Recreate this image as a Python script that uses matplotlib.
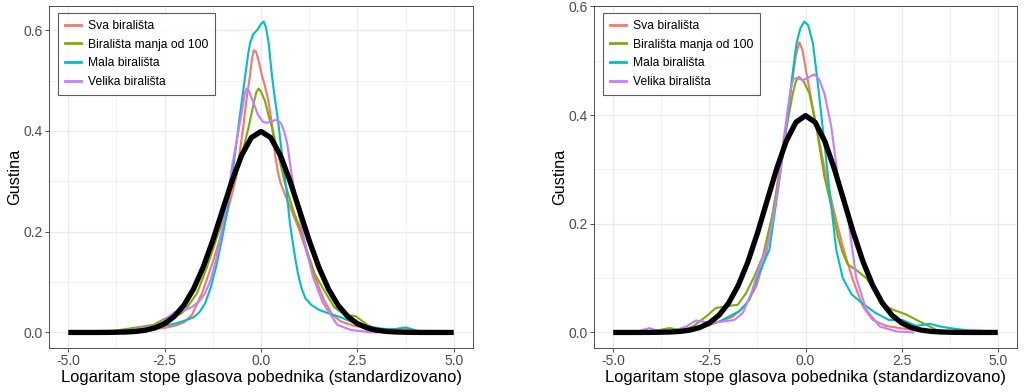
import matplotlib
matplotlib.use('Agg')
import matplotlib.pyplot as plt
from matplotlib.ticker import MultipleLocator

plt.rcParams['font.family'] = ['Liberation Sans', 'DejaVu Sans']

SERIES = ["Sva birališta", "Birališta manja od 100", "Mala birališta", "Velika birališta"]
COLORS = ["#F8766D", "#7CAE00", "#00BFC4", "#C77CFF"]
X_TICKS = [-5.0, -2.5, 0.0, 2.5, 5.0]
Y_TICKS = [0.0, 0.2, 0.4, 0.6]
X_LABEL = "Logaritam stope glasova pobednika (standardizovano)"
Y_LABEL = "Gustina"

# standard normal density (black reference curve)
norm_x = [-5.0, -4.75, -4.5, -4.25, -4.0, -3.75, -3.5, -3.25, -3.0, -2.75, -2.5, -2.25,
          -2.0, -1.75, -1.5, -1.25, -1.0, -0.75, -0.5, -0.25, 0.0, 0.25, 0.5, 0.75,
          1.0, 1.25, 1.5, 1.75, 2.0, 2.25, 2.5, 2.75, 3.0, 3.25, 3.5, 3.75, 4.0,
          4.25, 4.5, 4.75, 5.0]
norm_y = [0.0, 0.0, 0.0, 0.0, 0.0001, 0.0004, 0.0009, 0.0020, 0.0044, 0.0091, 0.0175, 0.0317,
          0.0540, 0.0863, 0.1295, 0.1826, 0.2420, 0.3011, 0.3521, 0.3867, 0.3989, 0.3867, 0.3521, 0.3011,
          0.2420, 0.1826, 0.1295, 0.0863, 0.0540, 0.0317, 0.0175, 0.0091, 0.0044, 0.0020, 0.0009, 0.0004, 0.0001,
          0.0, 0.0, 0.0, 0.0]

# left panel
left_sva_x = [-4.3, -3.6, -3.1, -2.5, -2.2, -2.0, -1.79, -1.53, -1.25, -0.97, -0.8, -0.64, -0.46,
              -0.38, -0.29, -0.24, -0.19, -0.13, -0.08, 0.03, 0.1, 0.19, 0.29, 0.36, 0.44, 0.51,
              0.64, 0.82, 0.99, 1.14, 1.3, 1.45, 1.63, 1.85, 2.07, 2.42, 2.94, 3.4, 3.72, 4.0, 4.3]
left_sva_y = [0.001, 0.003, 0.005, 0.009, 0.014, 0.02, 0.035, 0.078, 0.14, 0.21, 0.26, 0.309, 0.408,
              0.46, 0.508, 0.54, 0.56, 0.557, 0.545, 0.508, 0.49, 0.46, 0.41, 0.355, 0.318, 0.296,
              0.27, 0.237, 0.204, 0.17, 0.13, 0.1, 0.065, 0.035, 0.022, 0.013, 0.007, 0.006, 0.008, 0.003, 0.001]

left_manja_x = [-4.5, -4.26, -3.83, -3.31, -2.79, -2.5, -2.35, -2.1, -1.96, -1.66, -1.4, -1.05, -0.85,
                -0.7, -0.53, -0.32, -0.19, -0.12, -0.06, 0.0, 0.1, 0.2, 0.31, 0.46, 0.62, 0.86, 1.05,
                1.16, 1.4, 1.68, 1.9, 2.15, 2.46, 2.76, 3.0, 3.3]
left_manja_y = [0.001, 0.003, 0.003, 0.009, 0.015, 0.027, 0.032, 0.036, 0.045, 0.078, 0.13, 0.21, 0.27,
                0.3, 0.342, 0.408, 0.455, 0.477, 0.484, 0.478, 0.46, 0.43, 0.40, 0.349, 0.296, 0.237, 0.2,
                0.17, 0.115, 0.078, 0.05, 0.036, 0.032, 0.015, 0.006, 0.002]

left_mala_x = [-4.5, -3.8, -3.2, -2.6, -2.2, -1.92, -1.75, -1.6, -1.45, -1.3, -1.15, -1.0, -0.88,
               -0.75, -0.53, -0.33, -0.28, -0.2, -0.1, 0.0, 0.07, 0.13, 0.2, 0.27, 0.33, 0.45, 0.55,
               0.66, 0.75, 0.85, 0.95, 1.05, 1.15, 1.3, 1.5, 1.75, 2.0, 2.33, 2.76, 3.2, 3.5, 3.76,
               4.06, 4.5, 4.7]
left_mala_y = [0.001, 0.003, 0.006, 0.012, 0.018, 0.025, 0.03, 0.04, 0.058, 0.09, 0.135, 0.19, 0.24,
               0.309, 0.441, 0.554, 0.575, 0.592, 0.60, 0.612, 0.617, 0.605, 0.574, 0.52, 0.481, 0.415, 0.349,
               0.283, 0.217, 0.165, 0.12, 0.088, 0.068, 0.055, 0.045, 0.038, 0.032, 0.022, 0.012, 0.007,
               0.007, 0.01, 0.003, 0.003, 0.0]

left_velika_x = [-4.0, -3.48, -3.05, -2.7, -2.5, -2.25, -2.0, -1.8, -1.6, -1.45, -1.3, -1.15, -1.0,
                 -0.88, -0.75, -0.62, -0.49, -0.43, -0.38, -0.32, -0.19, -0.08, 0.05, 0.15, 0.3, 0.42,
                 0.52, 0.6, 0.68, 0.79, 0.94, 1.16, 1.35, 1.6, 1.72, 1.98, 2.33, 2.76, 3.0]
left_velika_y = [0.001, 0.003, 0.01, 0.012, 0.025, 0.04, 0.044, 0.05, 0.062, 0.078, 0.105, 0.15, 0.21,
                 0.26, 0.33, 0.385, 0.441, 0.47, 0.484, 0.48, 0.455, 0.432, 0.418, 0.416, 0.42, 0.422,
                 0.415, 0.40, 0.375, 0.316, 0.25, 0.17, 0.11, 0.06, 0.045, 0.015, 0.005, 0.001, 0.0]

# right panel
right_sva_x = [-4.0, -3.63, -3.11, -2.59, -2.24, -1.89, -1.55, -1.28, -1.02, -0.76, -0.52, -0.33,
               -0.25, -0.16, -0.08, 0.04, 0.28, 0.45, 0.54, 0.71, 0.97, 1.23, 1.49, 1.75, 2.1, 2.45,
               2.88, 3.49, 4.0]
right_sva_y = [0.001, 0.002, 0.005, 0.011, 0.02, 0.029, 0.051, 0.085, 0.146, 0.26, 0.379, 0.471,
               0.51, 0.534, 0.52, 0.471, 0.379, 0.318, 0.287, 0.232, 0.158, 0.097, 0.048, 0.023, 0.012, 0.008,
               0.004, 0.002, 0.0]

right_manja_x = [-4.2, -3.98, -3.54, -3.2, -2.93, -2.59, -2.33, -1.98, -1.76, -1.55, -1.33, -1.11,
                 -0.85, -0.68, -0.49, -0.33, -0.25, -0.17, -0.05, 0.1, 0.28, 0.49, 0.71, 0.85, 0.97,
                 1.1, 1.32, 1.58, 1.84, 2.05, 2.27, 2.62, 2.97, 3.4, 3.7]
right_manja_y = [0.001, 0.002, 0.008, 0.004, 0.011, 0.029, 0.045, 0.049, 0.051, 0.072, 0.103, 0.14,
                 0.22, 0.287, 0.379, 0.44, 0.462, 0.47, 0.462, 0.44, 0.379, 0.287, 0.22, 0.175, 0.146,
                 0.125, 0.115, 0.1, 0.072, 0.05, 0.042, 0.033, 0.02, 0.005, 0.001]

right_mala_x = [-4.0, -3.45, -3.02, -2.59, -2.24, -1.89, -1.72, -1.46, -1.2, -0.94, -0.72, -0.5,
                -0.33, -0.23, -0.13, -0.03, 0.07, 0.19, 0.3, 0.45, 0.61, 0.8, 0.97, 1.2, 1.47, 1.82,
                2.17, 2.52, 2.88, 3.23, 3.5, 3.75, 4.2, 4.62, 4.9]
right_mala_y = [0.001, 0.002, 0.005, 0.014, 0.02, 0.033, 0.039, 0.06, 0.11, 0.152, 0.26, 0.375,
                0.48, 0.533, 0.56, 0.572, 0.565, 0.533, 0.471, 0.375, 0.27, 0.152, 0.1, 0.07, 0.054, 0.036,
                0.023, 0.023, 0.012, 0.016, 0.011, 0.008, 0.004, 0.003, 0.001]

right_velika_x = [-4.4, -4.06, -3.8, -3.45, -3.1, -2.85, -2.5, -2.15, -1.85, -1.63, -1.41, -1.2,
                  -0.95, -0.75, -0.61, -0.46, -0.38, -0.31, -0.2, -0.07, 0.05, 0.23, 0.36, 0.49, 0.67,
                  0.84, 1.1, 1.32, 1.58, 1.93, 2.36, 2.8]
right_velika_y = [0.001, 0.008, 0.002, 0.002, 0.011, 0.022, 0.018, 0.02, 0.023, 0.036, 0.072, 0.12,
                  0.17, 0.25, 0.318, 0.41, 0.45, 0.467, 0.468, 0.464, 0.468, 0.475, 0.465, 0.44, 0.379,
                  0.287, 0.213, 0.1, 0.042, 0.011, 0.002, 0.0]

left_curves = [(left_sva_x, left_sva_y), (left_manja_x, left_manja_y),
               (left_mala_x, left_mala_y), (left_velika_x, left_velika_y)]
right_curves = [(right_sva_x, right_sva_y), (right_manja_x, right_manja_y),
                (right_mala_x, right_mala_y), (right_velika_x, right_velika_y)]


def draw_panel(ax, curves, ymax):
    for (xs, ys), name, col in zip(curves, SERIES, COLORS):
        ax.plot(xs, ys, color=col, lw=1.5, label=name, solid_joinstyle='round')
    ax.plot(norm_x, norm_y, color='black', lw=3.8, solid_joinstyle='round', solid_capstyle='butt')

    pad = ymax * 0.05
    ax.set_xlim(-5.5, 5.5)
    ax.set_ylim(-pad, ymax + pad)
    ax.set_xticks(X_TICKS)
    ax.set_xticklabels([f"{v:.1f}" for v in X_TICKS])
    ax.set_yticks(Y_TICKS)
    ax.set_yticklabels([f"{v:.1f}" for v in Y_TICKS])
    ax.xaxis.set_minor_locator(MultipleLocator(1.25))
    ax.yaxis.set_minor_locator(MultipleLocator(0.1))
    ax.grid(which='major', color='#EBEBEB', lw=0.9)
    ax.grid(which='minor', color='#EBEBEB', lw=0.5)
    ax.set_axisbelow(True)
    ax.tick_params(which='major', length=3, width=0.6, color='#333333', labelsize=10,
                   labelcolor='#4D4D4D', pad=1.5)
    ax.tick_params(which='minor', length=0)
    for s in ax.spines.values():
        s.set_color('#333333')
        s.set_linewidth(0.6)
    ax.set_xlabel(X_LABEL, fontsize=11.9, labelpad=1.5)
    ax.set_ylabel(Y_LABEL, fontsize=11.7, labelpad=1)
    leg = ax.legend(loc='upper left', bbox_to_anchor=(0.021, 0.98), borderaxespad=0,
                    fontsize=8.7, frameon=True, fancybox=False, handlelength=1.33,
                    handletextpad=0.58, labelspacing=0.56, borderpad=0.58)
    leg.get_frame().set_edgecolor('#333333')
    leg.get_frame().set_linewidth(0.8)
    for line in leg.get_lines():
        line.set_linewidth(2.0)


fig = plt.figure(figsize=(10.24, 3.92), dpi=100)
ax_left = fig.add_axes([49 / 1024, 44 / 392, 424 / 1024, 342 / 392])
ax_right = fig.add_axes([594 / 1024, 44 / 392, 423 / 1024, 342 / 392])

draw_panel(ax_left, left_curves, max(left_mala_y))
draw_panel(ax_right, right_curves, max(right_mala_y))

fig.savefig("out.png", dpi=100)
